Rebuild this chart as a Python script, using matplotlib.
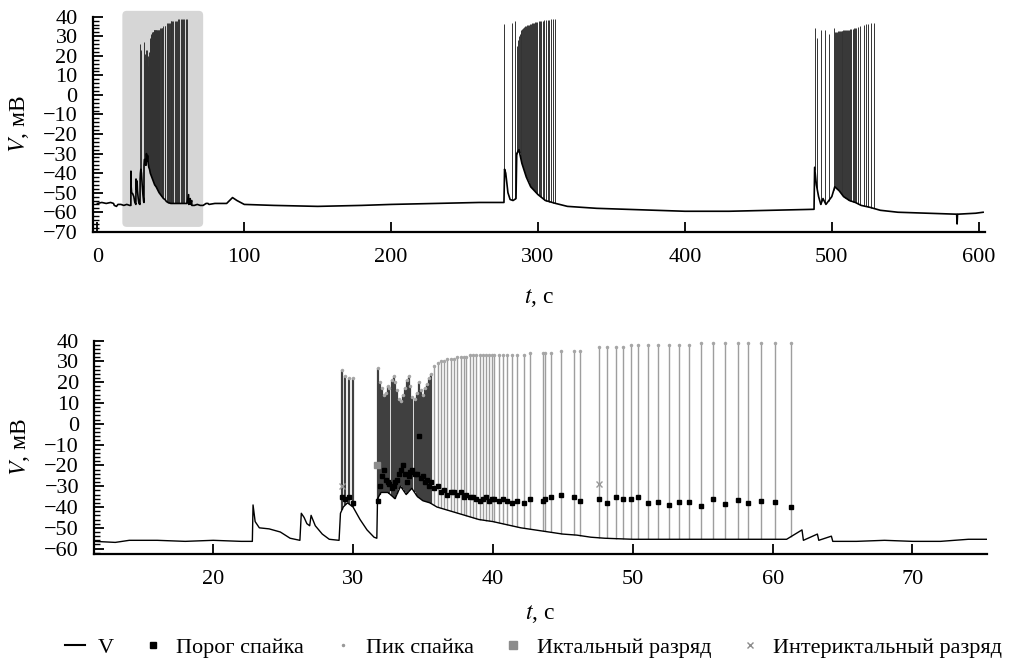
import numpy as np
import matplotlib
matplotlib.use("Agg")
from matplotlib import pyplot as plt
from matplotlib.lines import Line2D
from matplotlib.patches import FancyBboxPatch
from matplotlib.ticker import MultipleLocator

# ---- zoomed fragment (bottom panel), s / mV ----
t_bot = [11.5, 13, 14, 16, 18, 20, 22, 22.8, 22.85, 23.0, 23.3, 24.0, 24.8, 25.5, 26.2,
         26.3, 26.5, 26.7, 26.9, 27.0, 27.3, 27.8, 28.3, 29.0, 29.1, 29.3, 29.6, 30.0,
         30.5, 31.0, 31.5, 31.7, 31.75, 32.0, 32.5, 33.0, 33.4, 33.8, 34.2, 34.6, 35.0,
         35.5, 36, 37, 38, 39, 40, 41, 42, 43, 44, 45, 46, 47, 48, 50, 52, 55, 58, 61,
         62.1, 62.2, 63.2, 63.3, 64.2, 64.3, 66, 68, 70, 72, 74, 75.3]
v_bot = [-56.5, -57, -56, -56, -56.5, -56, -56.5, -56.5, -39, -47, -50, -50.5, -52, -55, -56,
         -43, -45, -48, -49, -44, -49, -53, -55.5, -56, -43, -40, -38, -40,
         -46, -51, -54.5, -55, -36, -33, -33, -36, -30, -34, -31, -35, -37,
         -38, -40, -42, -44, -46, -47, -48.5, -50, -51, -52, -53, -53.5, -54.5, -55, -55.5, -55.5, -55.5, -55.5, -55.5,
         -51, -56, -53, -56, -54, -56.5, -56.5, -56, -56.5, -56.5, -55.5, -55.5]

spike_t = [29.2, 29.45, 29.7, 30.0,
           31.75, 31.9, 32.05, 32.2, 32.35, 32.5, 32.6, 32.75, 32.9, 33.0, 33.15, 33.3, 33.4,
           33.55, 33.7, 33.85, 34.0, 34.1, 34.25, 34.4, 34.55, 34.7, 34.85, 35.0, 35.15, 35.3,
           35.45, 35.6,
           35.8, 36.05, 36.3, 36.5, 36.75, 37.0, 37.2, 37.45, 37.7, 37.9, 38.1, 38.35, 38.6,
           38.8, 39.05, 39.3, 39.5, 39.7, 39.9, 40.1, 40.45, 40.75, 41.0, 41.35, 41.75, 42.25,
           42.65, 43.55, 43.72, 44.17, 44.85, 45.8, 46.2, 47.55, 48.15, 48.8, 49.3, 49.9, 50.4,
           51.1, 51.8, 52.6, 53.3, 54.05, 54.9, 55.75, 56.6, 57.5, 58.25, 59.15, 60.2, 61.3]
spike_peak = [26, 23, 22, 22,
              27, 20, 17, 14, 15, 18, 17, 21, 23, 20, 16, 12, 11,
              14, 17, 21, 23, 18, 13, 12, 15, 20, 16, 14, 17, 19,
              22, 24,
              28, 29, 30, 30, 31, 31, 31, 32, 32, 32, 32, 33, 33,
              33, 33, 33, 33, 33, 33, 33, 33, 33, 33, 33, 33, 33,
              34, 34, 34, 34, 35, 35, 35, 37, 37, 37, 37, 38, 38,
              38, 38, 38, 38, 38, 39, 39, 39, 39, 39, 39, 39, 39]
spike_thr = [-35, -36, -35, -38,
             -37, -30, -25, -22, -27, -28, -29, -31, -30, -28, -27, -24, -22,
             -20, -24, -28, -25, -23, -22, -24, -24, -6, -26, -25, -28, -27,
             -30, -28,
             -31, -30, -33, -32, -34, -33, -33, -34, -33, -35, -34, -35, -35,
             -36, -37, -36, -35, -37, -36, -36, -37, -36, -37, -38, -37, -38,
             -36, -37, -36, -35, -34, -35, -37, -36, -38, -35, -36, -36, -35,
             -38, -37.7, -39, -37.5, -37.5, -39.5, -36, -38.6, -36.6, -38, -37, -37.8, -40]
ictal_t, ictal_v = [31.7], [-20]
interictal_t, interictal_v = [29.2, 47.55], [-30, -29]

# ---- whole record (top panel) outside the fragment ----
t_pre = [0, 3, 6, 9, 11]
v_pre = [-55.5, -55, -55.5, -55, -55.5]
t_post = [76, 80, 88, 92, 95, 100, 120, 150, 180, 200, 230, 260, 276.8, 277.2, 278, 279.5,
          281, 283, 285, 285.5, 287, 289, 292, 295, 300, 305, 312, 320, 340, 360, 400, 430,
          460, 487.9, 488.3, 489.5, 491, 492.5, 494, 496, 498, 500, 502, 505, 508, 512, 516,
          520, 526, 533, 545, 565, 585, 585.3, 585.6, 598, 603]
v_post = [-56, -55.5, -55.5, -52.5, -54, -56, -56.5, -57, -56.5, -56, -55.5, -55, -55, -38, -40, -50,
          -53.5, -54, -53, -30, -28, -35, -42, -47, -51, -54, -55.5, -57, -58, -58.5, -59.5, -59.5,
          -59, -58.5, -37, -46, -52, -56, -53, -56, -54, -52, -47, -49, -52, -54, -55,
          -56.5, -57.5, -59, -60, -60.5, -61, -66, -61, -60.5, -60]

burst2_t = [277.1, 282.5, 284.3, 285.5, 286.2, 286.9, 287.5, 288.1, 288.7, 289.3, 289.9, 290.5,
            291.1, 291.7, 292.3, 293.0, 293.6, 294.3, 295.0, 295.7, 296.4, 297.2, 298.0, 298.8,
            299.6, 300.5, 301.4, 302.3, 303.3, 304.3, 305.4, 306.5, 307.7, 309.0, 310.3, 311.6]
burst2_peak = [36.5, 37, 38, 25, 28, 30, 31, 32, 33, 33.5, 34, 34.5,
               35, 35, 35.5, 36, 36, 36.5, 36.5, 37, 37, 37, 37.5, 37.5,
               37.5, 38, 38, 38, 38, 38.5, 38.5, 38.5, 38.5, 39, 39, 39]
burst3_t = [488.5, 490.2, 492.5, 495.5, 498.0, 501.3, 502.3, 503.0, 503.6, 504.2, 504.8, 505.4,
            506.0, 506.6, 507.2, 507.8, 508.4, 509.0, 509.7, 510.4, 511.1, 511.8, 512.5, 513.3,
            514.1, 515.0, 515.9, 516.8, 517.8, 519.5, 521.8, 523.3, 524.7, 526.7, 528.6]
burst3_peak = [34, 29, 33, 33, 31, 34, 32, 32, 32, 32.5, 32.5, 32.5,
               32.5, 32.5, 32.5, 33, 33, 33, 33, 33, 33, 33, 33.5, 33.5,
               33.5, 34, 34, 34, 34.5, 35, 36, 36.5, 36.5, 37, 37]

top_xticks = [0, 100, 200, 300, 400, 500, 600]
bot_xticks = [20, 30, 40, 50, 60, 70]


def style_axis(ax):
    for side in ("top", "right"):
        ax.spines[side].set_visible(False)
    for side in ("left", "bottom"):
        ax.spines[side].set_linewidth(1.6)
    ax.yaxis.set_major_locator(MultipleLocator(10))
    ax.yaxis.set_minor_locator(MultipleLocator(2))
    ax.tick_params(which="major", direction="in", length=7, width=1.3, labelsize=16)
    ax.tick_params(which="minor", direction="in", length=4, width=1.0)
    ax.tick_params(axis="x", which="major", pad=12)
    ax.tick_params(axis="y", which="major", pad=11)
    ax.yaxis.set_label_coords(-0.07, 0.5)


def main():
    plt.rcParams["font.family"] = ["Liberation Serif", "DejaVu Serif"]
    plt.rcParams["mathtext.fontset"] = "stix"

    fig = plt.figure(figsize=(10.14, 6.68), dpi=100)
    ax1 = fig.add_axes([0.0917, 0.653, 0.88, 0.322])
    ax2 = fig.add_axes([0.093, 0.1712, 0.88, 0.319])

    # top panel: whole record
    t_all = t_pre + t_bot + t_post
    v_all = v_pre + v_bot + v_post
    ax1.add_patch(FancyBboxPatch((17.0, -67.5), 55.0, 110.5,
                                 boxstyle="round,pad=0,rounding_size=3",
                                 mutation_aspect=0.75, facecolor="#d6d6d6",
                                 edgecolor="none", zorder=0, clip_on=False))
    for ts, ps in ((spike_t, spike_peak), (burst2_t, burst2_peak), (burst3_t, burst3_peak)):
        lows = np.interp(ts, t_all, v_all)
        ax1.vlines(ts, lows, ps, colors="0.2", linewidth=0.7, zorder=2)
    ax1.plot(t_all, v_all, color="black", linewidth=1.2, zorder=3)
    ax1.set_xlim(-3, 604.5)
    ax1.set_ylim(-70, 40)
    ax1.set_xticks(top_xticks)
    style_axis(ax1)
    ax1.set_ylabel("$V$, мВ", fontsize=17)
    ax1.set_xlabel("$t$, с", fontsize=17, labelpad=14)

    # bottom panel: zoomed burst
    lows = np.interp(spike_t, t_bot, v_bot)
    cols = ["0.25" if t < 35.7 else "0.62" for t in spike_t]
    widths = [1.6 if t < 35.7 else 1.0 for t in spike_t]
    ax2.vlines(spike_t, lows, spike_peak, colors=cols, linewidth=widths, zorder=2)
    ax2.plot(t_bot, v_bot, color="black", linewidth=1.0, zorder=3)
    ax2.plot(spike_t, spike_thr, "s", color="black", markersize=2.5, zorder=4)
    ax2.plot(spike_t, spike_peak, ".", color="0.65", markersize=3, zorder=4)
    ax2.plot(ictal_t, ictal_v, "s", color="0.55", markersize=5, zorder=5)
    ax2.plot(interictal_t, interictal_v, "x", color="0.6", markersize=4, zorder=5)
    ax2.set_xlim(11.5, 75.3)
    ax2.set_ylim(-62.4, 40)
    ax2.set_xticks(bot_xticks)
    style_axis(ax2)
    ax2.set_ylabel("$V$, мВ", fontsize=17)
    ax2.set_xlabel("$t$, с", fontsize=17, labelpad=10)

    handles = [
        Line2D([], [], color="black", linewidth=1.5),
        Line2D([], [], linestyle="none", marker="s", color="black", markersize=4),
        Line2D([], [], linestyle="none", marker=".", color="0.6", markersize=3),
        Line2D([], [], linestyle="none", marker="s", color="0.55", markersize=6),
        Line2D([], [], linestyle="none", marker="x", color="0.55", markersize=4),
    ]
    labels = ["V", "Порог спайка", "Пик спайка", "Иктальный разряд", "Интериктальный разряд"]
    fig.legend(handles, labels, loc="center", bbox_to_anchor=(0.526, 0.03), ncol=5,
               frameon=False, fontsize=16, handlelength=0.9, handletextpad=0.6,
               columnspacing=1.3)

    fig.savefig("out.png", dpi=100)


if __name__ == "__main__":
    main()
